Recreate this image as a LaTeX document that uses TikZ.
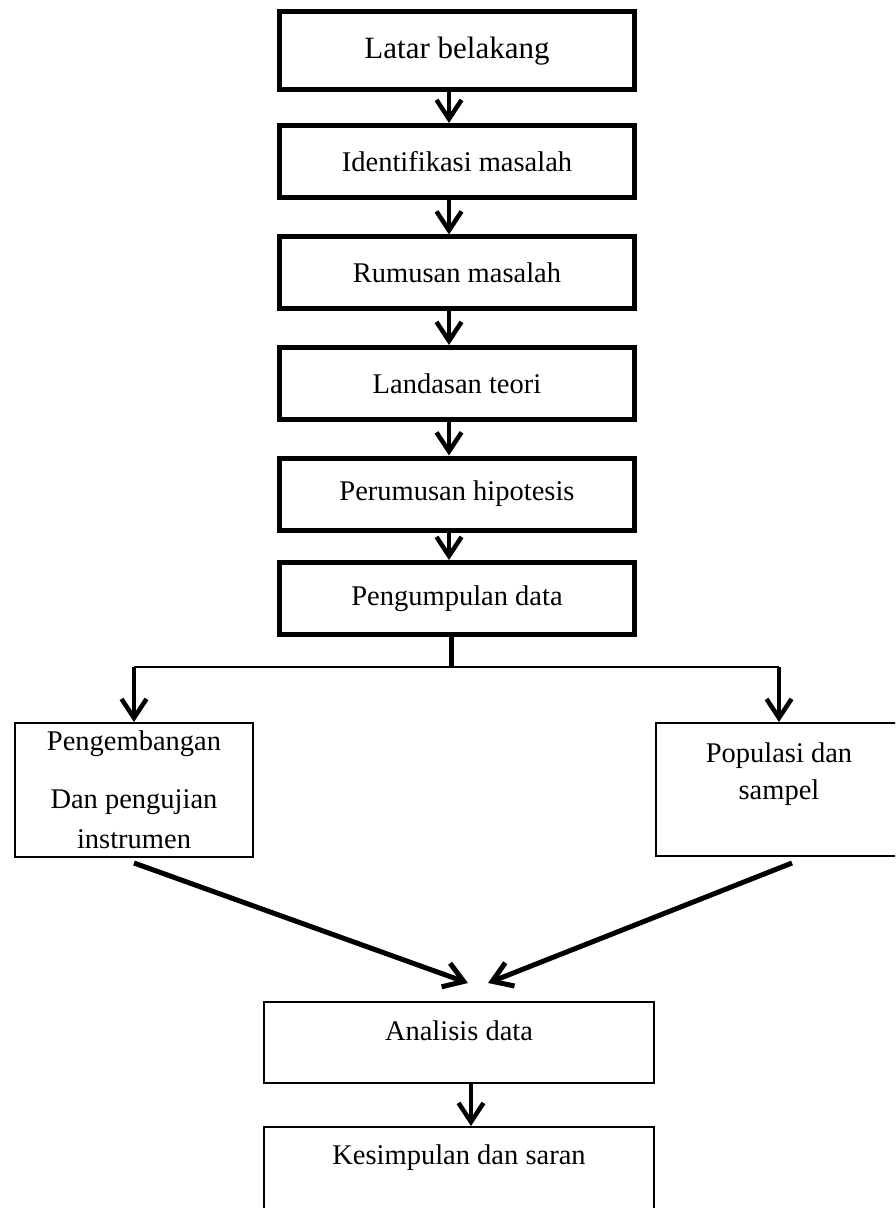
\documentclass[tikz,border=0pt]{standalone}
\usepackage{fontspec}
\setmainfont{Liberation Serif}
\usetikzlibrary{arrows.meta}

\tikzset{
  topbox/.style={draw,line width=2.5pt,minimum width=177.5pt,minimum height=36pt,font=\fontsize{14.25}{17}\selectfont},
  lowbox/.style={draw,line width=1pt,align=center,font=\fontsize{14.25}{17}\selectfont},
  arr/.style={line width=2.25pt,-{Straight Barb[length=9.5pt,width=12.5pt]}},
}

\begin{document}
\begin{tikzpicture}[x=.5pt,y=-.5pt]
\useasboundingbox (0,0) rectangle (895,1208);
\clip (0,0) rectangle (895,1208);
\node[topbox,minimum height=39pt,font=\fontsize{15.5}{18}\selectfont] (lb) at (457,51) {Latar belakang};
\foreach \y/\nm/\lab in {161.5/im/Identifikasi masalah,273/rm/Rumusan masalah,383.5/lt/Landasan teori,494/ph/Perumusan hipotesis,598.5/pd/Pengumpulan data}
  \node[topbox] (\nm) at (457,\y) {\lab};
\foreach \a/\b in {lb/im,im/rm,rm/lt,lt/ph,ph/pd}
  \draw[arr] ([xshift=-4pt]\a.south) -- ([xshift=-4pt]\b.north);
% split to the two side boxes
\node[lowbox,minimum width=119pt,minimum height=67pt,font=\fontsize{14.25}{20}\selectfont] (pg) at (134,790) {Pengembangan\\[9pt]Dan pengujian\\instrumen};
\node[lowbox,minimum width=123pt,minimum height=66.5pt,font=\fontsize{14.25}{18.5}\selectfont] (pp) at (779,789.5) {Populasi dan\\sampel\\ \mbox{}};
\coordinate (split) at (451,667);
\draw[line width=2.5pt] ([xshift=-3pt]pd.south) -- (split);
\draw[line width=1pt] (split -| pg.north) -- (split -| pp.north);
\draw[arr] (split -| pg.north) -- (pg.north);
\draw[arr] (split -| pp.north) -- (pp.north);
% join
\coordinate (tipl) at (468,983);
\coordinate (tipr) at (488,983);
\draw[arr,line width=2.5pt] ([yshift=-2.5pt]pg.south) -- (tipl);
\draw[arr,line width=2.5pt] ([shift={(13,6)}]pp.south) -- (tipr);
\node[lowbox,minimum width=195pt,minimum height=40.5pt,text depth=12.2pt] (an) at (459,1042.5) {Analisis data};
\node[lowbox,minimum width=195pt,minimum height=60pt,text depth=32.7pt] (ks) at (459,1187) {Kesimpulan dan saran};
\draw[arr] ([xshift=6pt]an.south) -- ([xshift=6pt]ks.north);
\end{tikzpicture}
\end{document}
